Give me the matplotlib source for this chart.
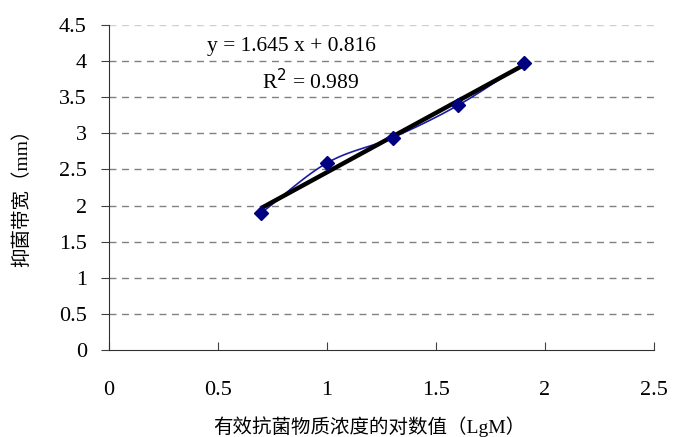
import numpy as np
import matplotlib
matplotlib.use('Agg')
from matplotlib import pyplot as plt

# log10 of effective concentration vs. width of inhibition zone
lg_conc = [0.699, 1.0, 1.301, 1.602, 1.903]
zone_mm = [1.90, 2.59, 2.94, 3.39, 3.97]

slope = 1.645
intercept = 0.816
r_squared = 0.989

x_ticks = [0, 0.5, 1, 1.5, 2, 2.5]
y_ticks = [0, 0.5, 1, 1.5, 2, 2.5, 3, 3.5, 4, 4.5]

num_font = ['Liberation Serif', 'DejaVu Serif']
cjk_font = ['Liberation Serif', 'Noto Sans CJK SC', 'DejaVu Sans']


def smooth_curve(xs, ys, n=30):
    """Catmull-Rom curve through the points, like a smoothed line series."""
    p = np.column_stack([xs, ys]).astype(float)
    p = np.vstack([2 * p[0] - p[1], p, 2 * p[-1] - p[-2]])
    out = []
    t = np.linspace(0, 1, n)[:, None]
    for i in range(1, len(p) - 2):
        p0, p1, p2, p3 = p[i - 1], p[i], p[i + 1], p[i + 2]
        seg = 0.5 * ((2 * p1) + (-p0 + p2) * t
                     + (2 * p0 - 5 * p1 + 4 * p2 - p3) * t ** 2
                     + (-p0 + 3 * p1 - 3 * p2 + p3) * t ** 3)
        out.append(seg)
    seg = np.vstack(out)
    return seg[:, 0], seg[:, 1]


fig = plt.figure(figsize=(6.73, 4.37), dpi=100)
ax = fig.add_axes([109 / 673, 1 - 350 / 437, 545 / 673, 325 / 437])

for yv in y_ticks[1:]:
    c = '#d0d0d0' if yv == y_ticks[-1] else '#808080'
    ax.axhline(yv, color=c, lw=1.0, ls=(0, (5, 4)), zorder=1)

sx, sy = smooth_curve(lg_conc, zone_mm)
ax.plot(sx, sy, color='#1a1aa6', lw=1.2, zorder=3)

xf = np.array([min(lg_conc), max(lg_conc)])
ax.plot(xf, slope * xf + intercept, color='black', lw=3.2,
        solid_capstyle='butt', zorder=4)

ax.plot(lg_conc, zone_mm, ls='none', marker='D', ms=7,
        mfc='#000080', mec='#000080', zorder=5)

ax.text(0.45, 4.2, 'y = %.3f x + %.3f' % (slope, intercept),
        family=num_font, fontsize=15.5, va='center', ha='left')
ax.text(0.7, 3.72, 'R$^2$ = %.3f' % r_squared,
        family=num_font, fontsize=15.5, va='center', ha='left')

ax.set_xlim(0, 2.5)
ax.set_ylim(0, 4.5)
ax.set_xticks(x_ticks)
ax.set_yticks(y_ticks)
ax.set_xticklabels(['%g' % v for v in x_ticks], family=num_font, fontsize=16)
ax.set_yticklabels(['%g' % v for v in y_ticks], family=num_font, fontsize=16)
ax.tick_params(axis='x', direction='in', length=6, pad=22, color='#404040')
ax.tick_params(axis='y', direction='out', length=6, pad=10, color='#404040')

for side in ['top', 'right']:
    ax.spines[side].set_visible(False)
ax.spines['left'].set_color('#303030')
ax.spines['bottom'].set_color('#303030')

ax.set_xlabel('有效抗菌物质浓度的对数值（LgM）', family=cjk_font, fontsize=14)
ax.set_ylabel('抑菌带宽（mm）', family=cjk_font, fontsize=14)
ax.xaxis.label.set_va('center')
ax.yaxis.label.set_va('center')
ax.xaxis.set_label_coords(0.477, -0.237)
ax.yaxis.set_label_coords(-0.16, 0.483)

fig.savefig('out.png', dpi=100)
